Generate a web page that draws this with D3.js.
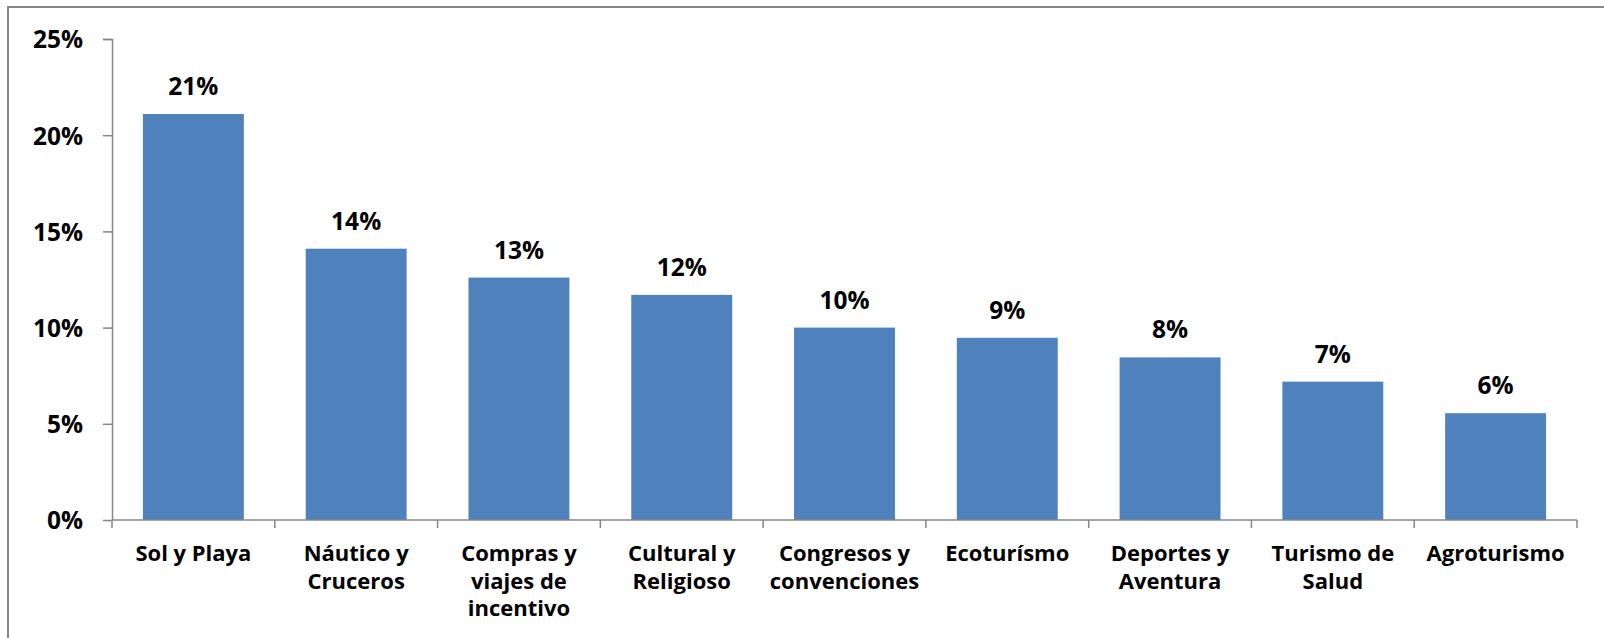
<!DOCTYPE html>
<html>
<head>
<meta charset="utf-8">
<script src="https://cdn.jsdelivr.net/npm/d3@7"></script>
<style>
  html, body { margin: 0; padding: 0; background: #ffffff; }
  svg { display: block; }
  text { font-family: "Open Sans", Lato, sans-serif; font-weight: 700; fill: #000; }
</style>
</head>
<body>
<svg id="chart" width="1604" height="638"></svg>
<script>
// Share of tourism demand by segment
const categories = [
  ["Sol y Playa"],
  ["Náutico y", "Cruceros"],
  ["Compras y", "viajes de", "incentivo"],
  ["Cultural y", "Religioso"],
  ["Congresos y", "convenciones"],
  ["Ecoturísmo"],
  ["Deportes y", "Aventura"],
  ["Turismo de", "Salud"],
  ["Agroturismo"]
];
const values = [0.211, 0.141, 0.126, 0.117, 0.100, 0.0947, 0.0845, 0.0719, 0.0555];
const yTicks = [0, 0.05, 0.10, 0.15, 0.20, 0.25];

const svg = d3.select("#chart");
const W = 1604, H = 638;
const margin = { left: 112, right: 27, top: 39, bottom: 118 };
const plotW = W - margin.left - margin.right;
const plotH = H - margin.top - margin.bottom;
const labelSize = "22px";
const numberSize = "24.5px";

// Outer chart frame (only top and left edges fall inside the page)
svg.append("rect")
  .attr("x", 8).attr("y", 7)
  .attr("width", W + 20).attr("height", H + 20)
  .attr("fill", "none")
  .attr("stroke", "#878787")
  .attr("stroke-width", 2);

const g = svg.append("g").attr("transform", `translate(${margin.left},${margin.top})`);

const x = d3.scaleBand()
  .domain(d3.range(categories.length))
  .range([0, plotW])
  .paddingInner(0.38)
  .paddingOuter(0.19);

const y = d3.scaleLinear().domain([0, 0.25]).range([plotH, 0]);

// Bars
g.selectAll("rect.bar")
  .data(values)
  .join("rect")
  .attr("class", "bar")
  .attr("x", (d, i) => x(i))
  .attr("width", x.bandwidth())
  .attr("y", d => y(d))
  .attr("height", d => plotH - y(d))
  .attr("fill", "#4F81BD");

// Value labels
const pct = d3.format(".0%");
g.selectAll("text.val")
  .data(values)
  .join("text")
  .attr("class", "val")
  .attr("x", (d, i) => x(i) + x.bandwidth() / 2)
  .attr("y", d => y(d) - 19)
  .attr("text-anchor", "middle")
  .style("font-size", numberSize)
  .text(d => pct(d));

// Y axis
const yAxis = d3.axisLeft(y)
  .tickValues(yTicks)
  .tickFormat(d3.format(".0%"))
  .tickSize(9)
  .tickPadding(20);
const ya = g.append("g").call(yAxis);
ya.select(".domain").attr("stroke", "#868686").attr("stroke-width", 1.5)
  .attr("d", `M-9,0.5H0.5V${plotH}`);
ya.selectAll(".tick line").attr("stroke", "#868686").attr("stroke-width", 1.5);
ya.selectAll(".tick text")
  .style("font-size", numberSize)
  .style("font-family", "'Open Sans', Lato, sans-serif")
  .style("font-weight", 700)
  .attr("fill", "#000")
  .attr("dy", "0.36em");

// X axis: baseline with tick marks between categories
const xb = d3.scaleLinear().domain([0, categories.length]).range([0, plotW]);
const xa = g.append("g").attr("transform", `translate(0,${plotH})`);
xa.append("line")
  .attr("x1", 0).attr("x2", plotW)
  .attr("y1", 0).attr("y2", 0)
  .attr("stroke", "#868686").attr("stroke-width", 1.5);
xa.selectAll("line.tk")
  .data(d3.range(categories.length + 1))
  .join("line")
  .attr("class", "tk")
  .attr("x1", d => xb(d)).attr("x2", d => xb(d))
  .attr("y1", 0).attr("y2", 8)
  .attr("stroke", "#868686").attr("stroke-width", 1.5);

// Category labels (wrapped over multiple lines)
const lab = xa.selectAll("text.cat")
  .data(categories)
  .join("text")
  .attr("class", "cat")
  .attr("text-anchor", "middle")
  .style("font-size", labelSize)
  .attr("transform", (d, i) => `translate(${x(i) + x.bandwidth() / 2},41)`);
lab.selectAll("tspan")
  .data(d => d)
  .join("tspan")
  .attr("x", 0)
  .attr("y", (d, j) => j * 27.5)
  .text(d => d);
</script>
</body>
</html>
